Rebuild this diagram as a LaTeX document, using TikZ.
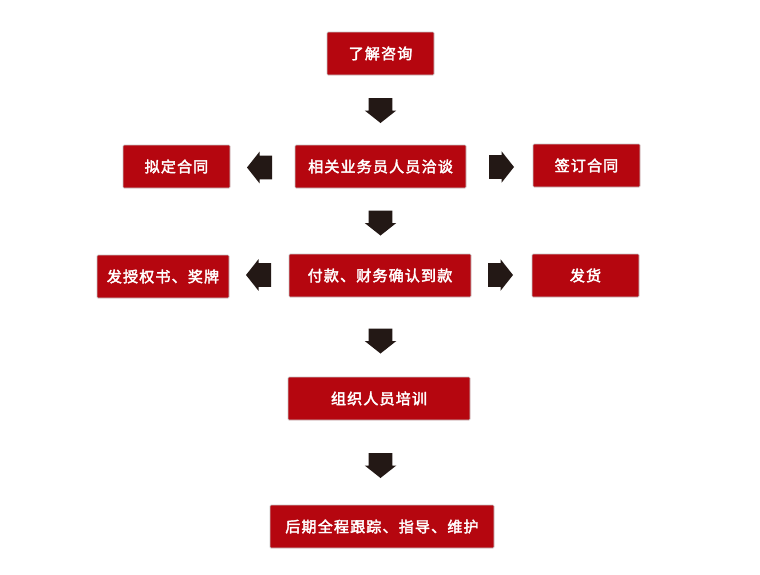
\documentclass[tikz,border=0pt]{standalone}
\usepackage{fontspec}
\newfontfamily\cjk[AutoFakeBold=2.5,LetterSpace=8]{Noto Sans CJK SC}
\definecolor{boxred}{HTML}{B5060F}
\definecolor{boxedge}{HTML}{C8C8C8}
\definecolor{arrowcol}{HTML}{231815}
\begin{document}
\begin{tikzpicture}[x=1pt,y=-1pt,
  box/.style={fill=boxred,draw=boxedge,line width=0.7pt,rounded corners=1pt,
    minimum height=43pt,inner sep=0pt,text=white,
    font=\cjk\bfseries\fontsize{15}{15}\selectfont},
  blockarrow/.pic={\fill[arrowcol] (-12.5,-11.8) -- (0,-11.8) -- (0,-15.8) -- (12.5,0) -- (0,15.8) -- (0,11.8) -- (-12.5,11.8) -- cycle;}
]
\useasboundingbox (0,0) rectangle (760,574);
\fill[white] (0,0) rectangle (760,574);

\node[box,minimum width=107pt] (n1) at (380.5,53.5) {了解咨询};

\node[box,minimum width=107pt] (n2l) at (176.5,166.5) {拟定合同};
\node[box,minimum width=171pt] (n2) at (380.5,166.5) {相关业务员人员洽谈};
\node[box,minimum width=107pt] (n2r) at (586.5,165.5) {签订合同};

\node[box,minimum width=132pt] (n3l) at (163,276.5) {发授权书、奖牌};
\node[box,minimum width=182pt] (n3) at (380,275.5) {付款、财务确认到款};
\node[box,minimum width=107pt] (n3r) at (585.5,275.5) {发货};

\node[box,minimum width=182pt] (n4) at (379,398.5) {组织人员培训};
\node[box,minimum width=224pt] (n5) at (382,526.5) {后期全程跟踪、指导、维护};

\coordinate (d1) at (380.5,110.5);
\coordinate (d2) at (380.5,223);
\coordinate (d3) at (380.5,341);
\coordinate (d4) at (380.5,465.5);
\coordinate (l2) at (259.5,167.5);
\coordinate (r2) at (501.5,167);
\coordinate (l3) at (258.5,275);
\coordinate (r3) at (500.5,275);

\pic[rotate=-90] at (d1) {blockarrow};
\pic[rotate=-90] at (d2) {blockarrow};
\pic[rotate=-90] at (d3) {blockarrow};
\pic[rotate=-90] at (d4) {blockarrow};
\pic[rotate=180] at (l2) {blockarrow};
\pic at (r2) {blockarrow};
\pic[rotate=180] at (l3) {blockarrow};
\pic at (r3) {blockarrow};
\end{tikzpicture}
\end{document}
